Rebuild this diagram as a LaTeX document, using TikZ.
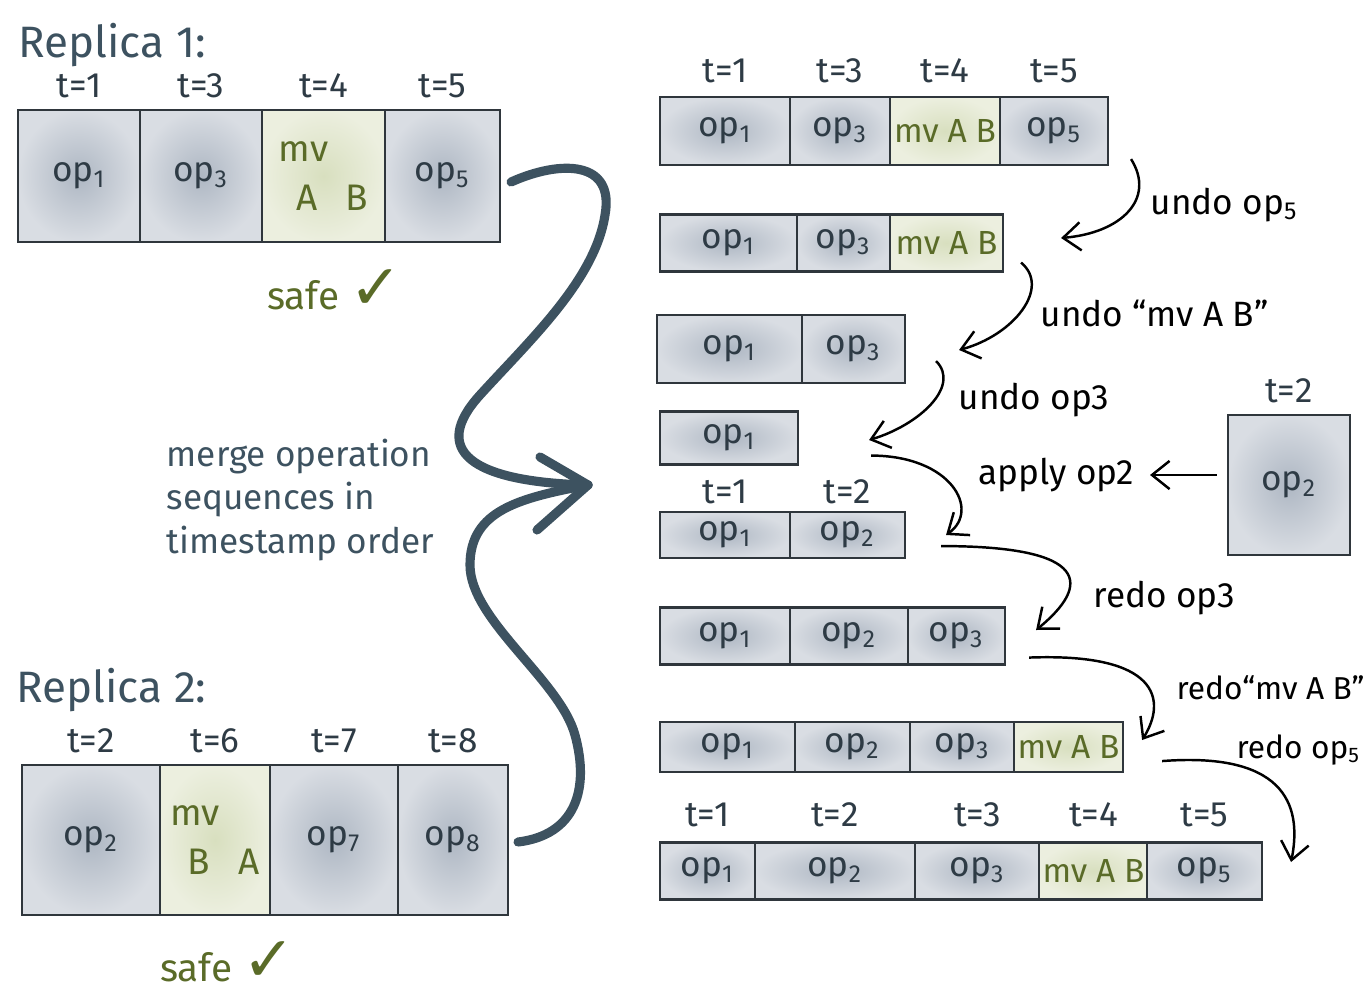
\documentclass[tikz,border=0pt]{standalone}
\usepackage{fontspec}
\setmainfont{Fira Sans}
\newfontfamily\symfont{DejaVu Sans}
\usetikzlibrary{arrows.meta, positioning, calc}
\definecolor{ink}{HTML}{2E3B45}
\definecolor{inkline}{HTML}{2F363C}
\definecolor{slate}{HTML}{3D5260}
\definecolor{moss}{HTML}{5A6B28}
\definecolor{fillin}{HTML}{AEB7C3}
\definecolor{fillout}{HTML}{D9DDE3}
\definecolor{mvin}{HTML}{D8DFBF}
\definecolor{mvout}{HTML}{ECEFDF}
\newcommand{\opsub}[1]{op\textsubscript{#1}}
\newcommand{\mvtwo}[2]{mv\\[1pt]\hspace{5pt}#1\hspace{8pt}#2}
\tikzset{
  cellop/.style={rectangle, draw=inkline, line width=0.6pt, inner color=fillin, outer color=fillout,
                 text=ink, font=\fontsize{10}{12}\selectfont, inner sep=1pt},
  cellmv/.style={rectangle, draw=inkline, line width=0.6pt, inner color=mvin, outer color=mvout,
                 text=moss, font=\fontsize{10.5}{13}\selectfont, align=left, inner sep=1pt},
  cellmvs/.style={cellmv, font=\fontsize{9.5}{11}\selectfont},
  stamp/.style={text=ink, font=\fontsize{10}{11}\selectfont, inner sep=0pt},
  heading/.style={text=slate, font=\fontsize{12.5}{14}\selectfont, anchor=west, inner sep=0pt},
  steplbl/.style={text=black, font=\fontsize{10}{11}\selectfont, anchor=west, inner sep=0pt},
  safelbl/.style={text=moss, font=\fontsize{11}{12}\selectfont, inner sep=0pt},
  mergelbl/.style={text=slate, font=\fontsize{10}{12.5}\selectfont, anchor=west, align=left, inner sep=0pt},
  arrow/.style={line width=0.7pt, -{Straight Barb[length=5pt,width=8pt]}, draw=black},
  bigarrow/.style={line width=2.6pt, draw=slate, line cap=round, line join=round}
}
\begin{document}
\begin{tikzpicture}[x=0.01cm, y=-0.01cm]
  \useasboundingbox (0,0) rectangle (1370,1006);

  % replica 1
  \node[heading] (rep1) at (18,45) {Replica 1:};
  \foreach \a/\b/\txt/\k [count=\i] in {18/140/\opsub{1}/cellop, 140/262/\opsub{3}/cellop,
      262/385/\mvtwo{A}{B}/cellmv, 385/500/\opsub{5}/cellop}
    \node[\k, minimum width=(\b-\a)*0.01cm, minimum height=1.32cm] (r1c\i) at ({(\a+\b)/2},176) {\txt};
  \foreach \t [count=\i] in {1,3,4,5}
    \node[stamp, above=0.1cm of r1c\i] {t=\t};
  \node[safelbl] (safe1) at (335,290) {safe {\symfont\fontsize{18}{18}\selectfont ✓}};

  % replica 2
  \node[heading] (rep2) at (16,690) {Replica 2:};
  \foreach \a/\b/\txt/\k [count=\i] in {22/160/\opsub{2}/cellop, 160/270/\mvtwo{B}{A}/cellmv,
      270/398/\opsub{7}/cellop, 398/508/\opsub{8}/cellop}
    \node[\k, minimum width=(\b-\a)*0.01cm, minimum height=1.5cm] (r2c\i) at ({(\a+\b)/2},840) {\txt};
  \foreach \t [count=\i] in {2,6,7,8}
    \node[stamp, above=0.1cm of r2c\i] {t=\t};
  \node[safelbl] (safe2) at (228,962) {safe {\symfont\fontsize{18}{18}\selectfont ✓}};

  % merge
  \node[mergelbl] (merge) at (166,500) {merge operation\\sequences in\\timestamp order};
  \coordinate (mtip) at (588,485);
  \draw[bigarrow] ([shift={(10,6)}]r1c4.east) .. controls (560,160) and (615,160) .. (605,215)
    .. controls (595,280) and (530,340) .. (480,395)
    .. controls (430,450) and (470,482) .. (mtip);
  \draw[bigarrow] ([shift={(9,2)}]r2c4.east) .. controls (575,835) and (590,790) .. (575,735)
    .. controls (560,680) and (470,620) .. (470,565)
    .. controls (470,510) and (520,498) .. (mtip);
  \draw[bigarrow] ([shift={(-48,-28)}]mtip) -- (mtip) -- ([shift={(-51,45)}]mtip);

  % step 1
  \foreach \a/\b/\txt/\k [count=\i] in {660/790/\opsub{1}/cellop, 790/890/\opsub{3}/cellop,
      890/1000/mv A B/cellmvs, 1000/1108/\opsub{5}/cellop}
    \node[\k, minimum width=(\b-\a)*0.01cm, minimum height=0.68cm] (s1c\i) at ({(\a+\b)/2},131) {\txt};
  \foreach \t [count=\i] in {1,3,4,5}
    \node[stamp, above=0.12cm of s1c\i] {t=\t};

  % step 2
  \foreach \a/\b/\txt/\k [count=\i] in {660/797/\opsub{1}/cellop, 797/890/\opsub{3}/cellop,
      890/1003/mv A B/cellmvs}
    \node[\k, minimum width=(\b-\a)*0.01cm, minimum height=0.57cm] (s2c\i) at ({(\a+\b)/2},243) {\txt};

  % step 3
  \foreach \a/\b/\txt/\k [count=\i] in {657/802/\opsub{1}/cellop, 802/905/\opsub{3}/cellop}
    \node[\k, minimum width=(\b-\a)*0.01cm, minimum height=0.68cm] (s3c\i) at ({(\a+\b)/2},349) {\txt};

  % step 4
  \node[cellop, minimum width=1.38cm, minimum height=0.53cm] (s4c1) at (729,438) {\opsub{1}};

  % step 5
  \foreach \a/\b/\txt/\k [count=\i] in {660/790/\opsub{1}/cellop, 790/905/\opsub{2}/cellop}
    \node[\k, minimum width=(\b-\a)*0.01cm, minimum height=0.46cm] (s5c\i) at ({(\a+\b)/2},535) {\txt};
  \foreach \t [count=\i] in {1,2}
    \node[stamp, above=0.06cm of s5c\i] {t=\t};

  % step 6
  \foreach \a/\b/\txt/\k [count=\i] in {660/790/\opsub{1}/cellop, 790/908/\opsub{2}/cellop,
      908/1005/\opsub{3}/cellop}
    \node[\k, minimum width=(\b-\a)*0.01cm, minimum height=0.57cm] (s6c\i) at ({(\a+\b)/2},636) {\txt};

  % step 7
  \foreach \a/\b/\txt/\k [count=\i] in {660/795/\opsub{1}/cellop, 795/910/\opsub{2}/cellop,
      910/1015/\opsub{3}/cellop, 1015/1122/mv A B/cellmvs}
    \node[\k, minimum width=(\b-\a)*0.01cm, minimum height=0.5cm] (s7c\i) at ({(\a+\b)/2},747) {\txt};

  % step 8
  \foreach \a/\b/\txt/\k [count=\i] in {660/755/\opsub{1}/cellop, 755/915/\opsub{2}/cellop,
      915/1040/\opsub{3}/cellop, 1040/1147/mv A B/cellmvs, 1147/1262/\opsub{5}/cellop}
    \node[\k, minimum width=(\b-\a)*0.01cm, minimum height=0.57cm] (s8c\i) at ({(\a+\b)/2},871) {\txt};
  \foreach \t [count=\i] in {1,2,3,4,5}
    \node[stamp, above=0.14cm of s8c\i] {t=\t};

  % op2 from replica 2
  \node[cellop, minimum width=1.22cm, minimum height=1.4cm] (x2) at (1289,485) {\opsub{2}};
  \node[stamp, above=0.1cm of x2] {t=2};

  % labels
  \node[steplbl] (lundo5) at (1150,205) {undo \opsub{5}};
  \node[steplbl] (lundomv) at (1040,313) {undo ``mv A B''};
  \node[steplbl] (lundo3) at (958,400) {undo op3};
  \node[steplbl] (lapply) at (978,475) {apply op2};
  \node[steplbl] (lredo3) at (1093,598) {redo op3};
  \node[steplbl, font=\fontsize{9}{10}\selectfont] (lredomv) at (1176,688) {redo``mv A B''};
  \node[steplbl, font=\fontsize{9}{10}\selectfont] (lredo5) at (1236,750) {redo \opsub{5}};

  % steps
  \draw[arrow] ([shift={(22,-7)}]s1c4.south east) .. controls +(25,40) and +(60,-5) .. ([shift={(57,-5)}]s2c3.east);
  \draw[arrow] ([shift={(17,-10)}]s2c3.south east) .. controls +(30,25) and +(55,-15) .. ([shift={(53,1)}]s3c2.east);
  \draw[arrow] ([shift={(30,-23)}]s3c2.south east) .. controls +(25,25) and +(50,-15) .. ([shift={(70,2)}]s4c1.east);
  \draw[arrow] ([shift={(72,-10)}]s4c1.south east) .. controls +(80,0) and +(35,-25) .. ([shift={(40,0)}]s5c2.east);
  \draw[arrow] ([xshift=-0.1cm]x2.west |- lapply.east) -- ([xshift=0.15cm]lapply.east);
  \draw[arrow] ([shift={(35,-13)}]s5c2.south east) .. controls +(150,0) and +(55,-45) .. ([shift={(30,-6)}]s6c3.east);
  \draw[arrow] ([shift={(23,-8)}]s6c3.south east) .. controls +(130,-5) and +(25,-40) .. ([shift={(18,-7)}]s7c4.east);
  \draw[arrow] ([shift={(38,-12)}]s7c4.south east) .. controls +(130,-10) and +(10,-50) .. ([shift={(28,-9)}]s8c5.east);
\end{tikzpicture}
\end{document}
